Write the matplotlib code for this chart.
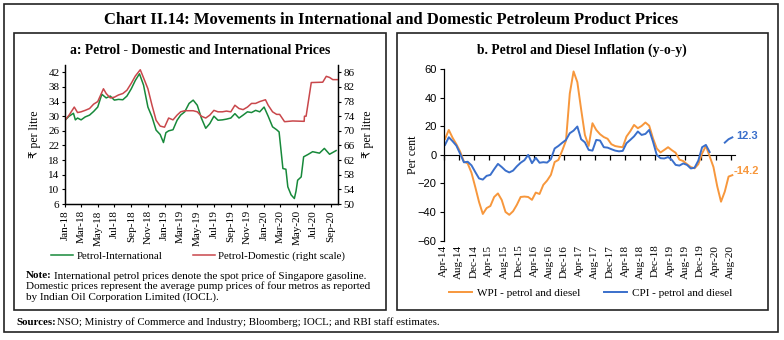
import pandas as pd
import numpy as np
import matplotlib
matplotlib.use('Agg')
import matplotlib.pyplot as plt
import matplotlib.dates as mdates
from matplotlib.patches import Rectangle

SERIF = ['Liberation Serif', 'DejaVu Sans']
SANS = ['Liberation Sans', 'DejaVu Sans']
plt.rcParams['font.family'] = SERIF

# ---- panel a: petrol prices (Rs per litre) ----
intl_dates = ['2018-01-01', '2018-01-16', '2018-02-01', '2018-02-08', '2018-02-16', '2018-03-01',
              '2018-03-16', '2018-04-01', '2018-04-16', '2018-05-01', '2018-05-16', '2018-06-01',
              '2018-06-16', '2018-07-01', '2018-07-16', '2018-08-01', '2018-08-16', '2018-09-01',
              '2018-09-16', '2018-10-01', '2018-10-16', '2018-11-01', '2018-11-16', '2018-12-01',
              '2018-12-16', '2018-12-28', '2019-01-06', '2019-01-16', '2019-02-01', '2019-02-16',
              '2019-03-01', '2019-03-16', '2019-04-01', '2019-04-16', '2019-05-01', '2019-05-16',
              '2019-06-01', '2019-06-16', '2019-07-01', '2019-07-16', '2019-08-01', '2019-08-16',
              '2019-09-01', '2019-09-16', '2019-10-01', '2019-10-16', '2019-11-01', '2019-11-16',
              '2019-12-01', '2019-12-16', '2020-01-01', '2020-01-16', '2020-02-01', '2020-02-16',
              '2020-02-25', '2020-03-10', '2020-03-21', '2020-03-28', '2020-04-09', '2020-04-21',
              '2020-04-27', '2020-05-03', '2020-05-16', '2020-05-25', '2020-06-09', '2020-06-27',
              '2020-07-22', '2020-08-09', '2020-08-28', '2020-09-09', '2020-09-21']
intl_price = [28.9, 30.0, 30.8, 29.0, 29.5, 29.0,
              29.8, 30.3, 31.3, 32.5, 36.0, 35.0,
              35.5, 34.4, 34.6, 34.5, 35.5, 37.5,
              39.8, 41.6, 38.5, 32.5, 29.8, 26.2,
              25.0, 22.8, 25.5, 26.0, 26.3, 28.9,
              30.3, 31.2, 33.5, 34.4, 33.0, 29.5,
              26.7, 28.0, 30.0, 28.9, 29.0, 29.2,
              29.5, 30.7, 29.5, 30.3, 31.2, 31.0,
              31.6, 31.2, 32.5, 30.0, 27.1, 26.3,
              25.7, 15.7, 15.5, 10.7, 8.5, 7.5,
              9.5, 12.5, 13.4, 18.9, 19.5, 20.3,
              19.9, 21.2, 19.6, 20.1, 20.6]

dom_dates = ['2018-01-01', '2018-01-16', '2018-02-04', '2018-02-16', '2018-03-01', '2018-03-16',
             '2018-04-01', '2018-04-16', '2018-05-01', '2018-05-22', '2018-06-01', '2018-06-16',
             '2018-07-01', '2018-07-16', '2018-08-01', '2018-08-16', '2018-09-01', '2018-09-16',
             '2018-10-04', '2018-10-16', '2018-11-01', '2018-11-16', '2018-12-01', '2018-12-16',
             '2019-01-01', '2019-01-16', '2019-02-01', '2019-02-16', '2019-03-01', '2019-03-16',
             '2019-04-01', '2019-04-16', '2019-05-01', '2019-05-16', '2019-06-01', '2019-06-16',
             '2019-07-01', '2019-07-16', '2019-08-01', '2019-08-16', '2019-09-01', '2019-09-16',
             '2019-10-01', '2019-10-16', '2019-11-01', '2019-11-16', '2019-12-01', '2019-12-16',
             '2020-01-06', '2020-01-16', '2020-02-01', '2020-02-16', '2020-02-27', '2020-03-16',
             '2020-04-15', '2020-05-27', '2020-05-28', '2020-06-03', '2020-06-22', '2020-08-03',
             '2020-08-16', '2020-08-28', '2020-09-09', '2020-09-26']
dom_price = [72.9, 74.3, 76.5, 75.0, 75.2, 75.6,
             76.1, 77.3, 78.0, 81.5, 80.2, 79.0,
             79.2, 79.8, 80.2, 81.1, 83.0, 85.0,
             86.7, 84.5, 81.5, 77.0, 72.9, 71.3,
             71.0, 73.5, 73.0, 74.3, 75.2, 75.5,
             75.5, 75.5, 75.2, 74.0, 73.5, 74.3,
             75.6, 75.2, 75.2, 75.4, 75.2, 77.0,
             76.1, 75.8, 76.5, 77.5, 77.5, 78.0,
             78.5, 77.0, 75.2, 74.5, 74.5, 72.5,
             72.7, 72.6, 74.0, 74.0, 83.2, 83.3,
             84.9, 84.6, 84.0, 84.0]

# ---- panel b: y-o-y inflation, monthly from Apr-14 to Aug-20 ----
wpi = [11.2, 17.5, 12.0, 7.5, 2.3, -4.7, -6.0, -12.5, -22.5, -33.0,
       -41.4, -37.3, -35.8, -29.5, -27.0, -31.6, -40.0, -42.0, -39.5, -35.0,
       -29.5, -29.2, -29.5, -31.5, -26.4, -27.4, -21.0, -18.0, -14.0, -5.0,
       -3.5, 3.0, 10.0, 43.0, 58.5, 51.0, 32.0, 14.0, 6.3, 22.2,
       17.5, 14.5, 12.5, 11.3, 7.5, 6.2, 5.7, 5.4, 12.9, 16.6,
       21.0, 18.7, 20.3, 22.7, 20.5, 11.7, 4.5, 1.7, 3.5, 5.4,
       3.3, 1.5, -3.3, -4.3, -6.5, -8.5, -9.4, -6.5, 1.0, 6.3,
       -1.0, -8.5, -22.0, -32.8, -25.7, -15.2, -14.2]
cpi = [7.0, 12.4, 9.6, 6.5, 0.8, -5.2, -4.8, -7.3, -12.0, -16.5,
       -17.3, -14.7, -14.0, -10.0, -6.3, -8.5, -11.0, -12.3, -11.0, -8.0,
       -5.5, -3.7, 0.0, -5.8, -2.0, -5.5, -5.1, -5.4, -3.0, 4.5,
       6.3, 8.5, 10.5, 15.2, 17.0, 19.9, 11.0, 8.8, 3.5, 3.0,
       10.5, 10.1, 5.4, 5.1, 4.0, 3.0, 2.5, 2.8, 8.2, 10.5,
       13.0, 16.4, 14.0, 14.7, 17.5, 9.4, 0.0, -2.3, -2.5, -1.5,
       -3.5, -7.0, -7.5, -6.0, -7.0, -9.5, -9.0, -4.0, 5.4, 7.0,
       2.0, np.nan, np.nan, np.nan, 8.6, 11.0, 12.3]

months = pd.date_range('2014-04-01', '2020-08-01', freq='MS')
month_labels = months.strftime('%b-%y')

GREEN = '#17893a'
RED = '#c9474b'
ORANGE = '#f7973c'
BLUE = '#3a6fcb'

W, H = 784, 340
fig = plt.figure(figsize=(W / 100, H / 100), dpi=100)


def fx(px):
    return px / W


def fy(py):
    return 1 - py / H


def box(x0, y0, x1, y1, lw=1.2):
    fig.add_artist(Rectangle((fx(x0), fy(y1)), fx(x1) - fx(x0), fy(y0) - fy(y1),
                             transform=fig.transFigure, fill=False, lw=lw, ec='#222222'))


box(4, 4, 778, 332)
box(14, 33, 386, 310)
box(397, 33, 768, 310)

fig.text(fx(391), fy(19.5), 'Chart II.14: Movements in International and Domestic Petroleum Product Prices',
         ha='center', va='center', fontsize=12, fontweight='bold')

# ---------------- panel a ----------------
ax1 = fig.add_axes([fx(65), fy(204), fx(338) - fx(65), fy(65) - fy(204)])
ax1r = ax1.twinx()
ln1, = ax1.plot(pd.to_datetime(intl_dates), intl_price, color=GREEN, lw=1.1)
ln2, = ax1r.plot(pd.to_datetime(dom_dates), dom_price, color=RED, lw=1.1)
ax1.set_ylim(6, 44)
ax1.set_yticks(range(6, 43, 4))
ax1r.set_ylim(50, 88)
ax1r.set_yticks(range(50, 87, 4))
ax1.set_xlim(pd.Timestamp('2018-01-01'), pd.Timestamp('2020-09-28'))
ax1.xaxis.set_major_locator(mdates.MonthLocator(bymonth=[1, 3, 5, 7, 9, 11]))
ax1.xaxis.set_major_formatter(mdates.DateFormatter('%b-%y'))
for a in (ax1, ax1r):
    a.spines['top'].set_visible(False)
    for s in a.spines.values():
        s.set_linewidth(0.9)
ax1.tick_params(axis='x', rotation=90, labelsize=8, length=2.5, pad=2)
ax1.tick_params(axis='y', labelsize=8, length=2.5, pad=1.5)
ax1r.tick_params(axis='y', labelsize=8, length=2.5, pad=1.5)
ax1.set_ylabel('₹ per litre', fontsize=8.5, labelpad=5)
ax1r.set_ylabel('₹ per litre', fontsize=8.5, rotation=90, labelpad=5)
fig.text(fx(200), fy(50), 'a: Petrol - Domestic and International Prices',
         ha='center', va='center', fontsize=9.8, fontweight='bold')
fig.legend([ln1, ln2], ['Petrol-International', 'Petrol-Domestic (right scale)'],
           loc='center', bbox_to_anchor=(fx(198), fy(256)), ncol=2, frameon=False,
           fontsize=7.8, handlelength=2.0, handletextpad=0.3, columnspacing=2.85,
           borderaxespad=0, borderpad=0)

fig.text(fx(25.5), fy(276), 'Note:', fontweight='bold', fontsize=8, va='center')
fig.text(fx(54), fy(276), 'International petrol prices denote the spot price of Singapore gasoline.',
         fontsize=8, va='center')
fig.text(fx(25.5), fy(286.5), 'Domestic prices represent the average pump prices of four metros as reported',
         fontsize=8, va='center')
fig.text(fx(25.5), fy(297), 'by Indian Oil Corporation Limited (IOCL).', fontsize=8, va='center')

fig.text(fx(16), fy(322.5), 'Sources:', fontweight='bold', fontsize=7.8, va='center')
fig.text(fx(57), fy(322.5), 'NSO; Ministry of Commerce and Industry; Bloomberg; IOCL; and RBI staff estimates.',
         fontsize=7.8, va='center')

# ---------------- panel b ----------------
ax2 = fig.add_axes([fx(443.5), fy(240.5), fx(735) - fx(443.5), fy(69.3) - fy(240.5)])
pos = np.arange(len(months)) + 0.4
ln3, = ax2.plot(pos, wpi, color=ORANGE, lw=1.4)
ln4, = ax2.plot(pos, cpi, color=BLUE, lw=1.4)
ax2.set_ylim(-60, 60)
ax2.set_yticks(range(-60, 61, 20))
ax2.set_xlim(0, 77.1)
ax2.set_xticks(np.arange(0, len(months), 4))
ax2.set_xticklabels(month_labels[::4], rotation=90, fontsize=8)
ax2.tick_params(axis='x', length=0, pad=3)
ax2.tick_params(axis='y', labelsize=8, length=3, pad=2)
for lab in ax2.get_yticklabels():
    lab.set_family(SANS)
for s in ('top', 'right', 'bottom'):
    ax2.spines[s].set_visible(False)
ax2.spines['left'].set_linewidth(0.9)
zero = ax2.secondary_xaxis(0.5)
zero.set_xticks(np.arange(0, len(months), 4))
zero.tick_params(axis='x', direction='out', length=3.5, labelbottom=False, labeltop=False,
                 bottom=True, top=False, width=0.9)
zero.spines['bottom'].set_linewidth(0.9)
ax2.set_ylabel('Per cent', fontsize=8.5, labelpad=-1)
fig.text(fx(582), fy(50), 'b. Petrol and Diesel Inflation (y-o-y)',
         ha='center', va='center', fontsize=9.8, fontweight='bold')
ax2.annotate(f'{cpi[-1]:.1f}', (pos[-1], cpi[-1]), xytext=(3, 1), textcoords='offset points',
             color=BLUE, fontsize=8, fontweight='bold', family=SANS, va='center',
             annotation_clip=False)
ax2.annotate(f'{wpi[-1]:.1f}', (pos[-1], wpi[-1]), xytext=(1, 3), textcoords='offset points',
             color=ORANGE, fontsize=8, fontweight='bold', family=SANS, va='center',
             annotation_clip=False)
fig.legend([ln3, ln4], ['WPI - petrol and diesel', 'CPI - petrol and diesel'],
           loc='center', bbox_to_anchor=(fx(591), fy(293)), ncol=2, frameon=False,
           fontsize=8, handlelength=2.05, handletextpad=0.45, columnspacing=2.15,
           borderaxespad=0, borderpad=0)

fig.savefig('out.png', dpi=100)
